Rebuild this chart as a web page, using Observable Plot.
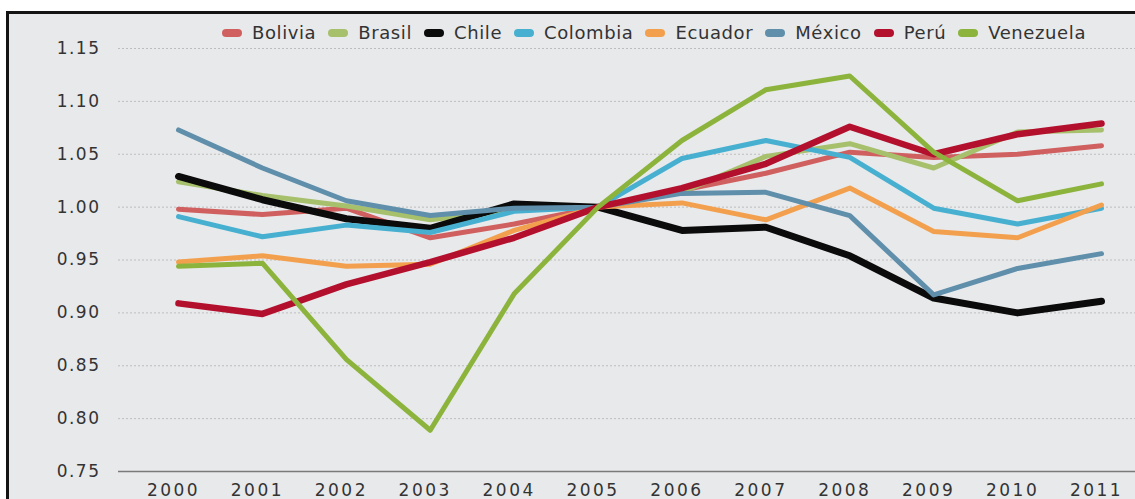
<!DOCTYPE html>
<html><head><meta charset="utf-8">
<script src="https://cdn.jsdelivr.net/npm/d3@7"></script>
<script src="https://cdn.jsdelivr.net/npm/@observablehq/plot@0.6"></script>
<style>
html,body{margin:0;padding:0;background:#fff;}
#wrap{position:relative;width:1135px;height:499px;overflow:hidden;}
#frame{position:absolute;left:6px;top:11px;width:1129px;height:488px;border-top:3px solid #141414;border-left:3px solid #141414;background:#e8e9eb;}
#chart{position:absolute;left:0;top:0;}
#legend{position:absolute;left:222px;top:22px;display:flex;align-items:center;font-family:"DejaVu Sans";font-size:18px;line-height:22px;letter-spacing:0.6px;color:#333;white-space:nowrap;}
.item{display:flex;align-items:center;margin-right:12px;}
.sw{width:20px;height:8px;border-radius:4px;margin-right:10px;}
#chart svg [aria-label="x-axis tick label"] text{letter-spacing:2.5px;}
#chart svg [aria-label="y-axis tick label"] text{letter-spacing:1.5px;}
</style></head>
<body>
<div id="wrap"><div id="frame"></div><div id="chart"></div><div id="legend"></div></div>
<script>
const years = [2000, 2001, 2002, 2003, 2004, 2005, 2006, 2007, 2008, 2009, 2010, 2011];
const countries = ["Bolivia", "Brasil", "Chile", "Colombia", "Ecuador", "México", "Perú", "Venezuela"];
const colors = ["#d0605f", "#a6c06c", "#0b0b0b", "#47b0d0", "#f3a04e", "#5f8fab", "#b3102e", "#8cb43c"];
const widths = [5, 5, 7, 5, 5, 5, 6.5, 5];
const bolivia   = [0.998, 0.993, 0.999, 0.971, 0.984, 1.000, 1.016, 1.032, 1.052, 1.047, 1.050, 1.058];
const brasil    = [1.024, 1.011, 1.001, 0.988, 0.997, 1.000, 1.014, 1.048, 1.060, 1.037, 1.071, 1.073];
const chile     = [1.029, 1.007, 0.989, 0.980, 1.003, 1.000, 0.978, 0.981, 0.954, 0.914, 0.900, 0.911];
const colombia  = [0.991, 0.972, 0.983, 0.976, 0.996, 1.000, 1.046, 1.063, 1.047, 0.999, 0.984, 0.999];
const ecuador   = [0.948, 0.954, 0.944, 0.946, 0.978, 1.000, 1.004, 0.988, 1.018, 0.977, 0.971, 1.002];
const mexico    = [1.073, 1.037, 1.006, 0.992, 0.999, 1.000, 1.013, 1.014, 0.992, 0.917, 0.942, 0.956];
const peru      = [0.909, 0.899, 0.927, 0.948, 0.971, 1.000, 1.018, 1.041, 1.076, 1.050, 1.069, 1.079];
const venezuela = [0.944, 0.947, 0.856, 0.789, 0.918, 1.000, 1.063, 1.111, 1.124, 1.052, 1.006, 1.022];
const yTicks = [0.75, 0.80, 0.85, 0.90, 0.95, 1.00, 1.05, 1.10, 1.15];

const series = [bolivia, brasil, chile, colombia, ecuador, mexico, peru, venezuela];
const rows = countries.map((c, i) => years.map((yr, j) => ({country: c, year: yr, value: series[i][j]})));

const chart = Plot.plot({
  width: 1135, height: 499,
  marginLeft: 118, marginRight: 0, marginTop: 48, marginBottom: 28,
  insetLeft: 60, insetRight: 34,
  style: {background: "transparent", fontFamily: "DejaVu Sans", fontSize: "17px", color: "#333", overflow: "visible"},
  x: {domain: [years[0], years[years.length - 1]]},
  y: {domain: [yTicks[0], yTicks[yTicks.length - 1]]},
  marks: [
    Plot.ruleY(yTicks.slice(1), {stroke: "#bdbdbd", strokeDasharray: "2,2", strokeWidth: 1}),
    Plot.ruleY([yTicks[0]], {stroke: "#7a7a7a", strokeWidth: 1.5}),
    Plot.axisX({ticks: years, tickFormat: d => String(d), tickSize: 0, tickPadding: 12, dx: -5, label: null, fontSize: 17, fill: "#333"}),
    Plot.axisY({ticks: yTicks, tickFormat: d => d.toFixed(2), tickSize: 0, tickPadding: 18, label: null, fontSize: 17, fill: "#333"}),
    ...rows.map((r, i) => Plot.line(r, {x: "year", y: "value", stroke: colors[i], strokeWidth: widths[i], strokeLinejoin: "round", strokeLinecap: "round"}))
  ]
});
document.getElementById("chart").appendChild(chart);

const legend = document.getElementById("legend");
countries.forEach((c, i) => {
  const it = document.createElement("div");
  it.className = "item";
  const sw = document.createElement("span");
  sw.className = "sw";
  sw.style.background = colors[i];
  const t = document.createElement("span");
  t.textContent = c;
  it.appendChild(sw); it.appendChild(t);
  legend.appendChild(it);
});
</script>
</body></html>
